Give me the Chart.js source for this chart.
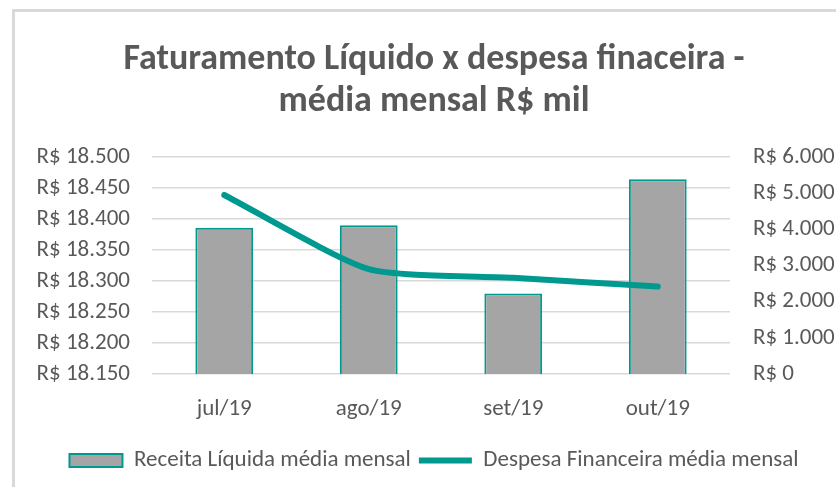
<!DOCTYPE html>
<html>
<head>
<meta charset="utf-8">
<script src="https://cdn.jsdelivr.net/npm/chart.js@4"></script>
<style>
  html, body { margin: 0; padding: 0; background: #fff; overflow: hidden; }
  #frame { position: absolute; left: 12px; top: 9px; width: 900px; height: 520px; border: 3px solid #d9d9d9; box-sizing: border-box; }
  #wrap { position: absolute; left: 13px; top: 0; width: 842px; height: 487px; }
</style>
</head>
<body>
<div id="frame"></div>
<div id="wrap"><canvas id="chart"></canvas></div>
<script>
// dados do gráfico
const meses = ["jul/19", "ago/19", "set/19", "out/19"];
const receitaLiquida = [18386, 18390, 18280, 18464];
const despesaFinanceira = [4950, 2900, 2660, 2420];

const cinza = "#595959";
const verde = "#00998F";
const fonte = "Carlito, Lato, sans-serif";

function formatReal(v) {
    return "R$ " + String(Math.round(v)).replace(/\B(?=(\d{3})+(?!\d))/g, ".");
}

Chart.defaults.font.family = fonte;
Chart.defaults.color = cinza;

const ctx = document.getElementById("chart").getContext("2d");
const chart = new Chart(ctx, {
    type: "bar",
    data: {
        labels: meses,
        datasets: [{
            label: "Receita Líquida média mensal",
            data: receitaLiquida,
            backgroundColor: "#A5A5A5",
            borderColor: verde,
            borderWidth: 2,
            borderSkipped: false,
            barPercentage: 0.4,
            categoryPercentage: 1,
            yAxisID: "y",
            order: 1
        }, {
            type: "line",
            label: "Despesa Financeira média mensal",
            data: despesaFinanceira,
            borderColor: verde,
            backgroundColor: verde,
            borderWidth: 6,
            borderCapStyle: "round",
            borderJoinStyle: "round",
            pointRadius: 0,
            tension: 0.2,
            yAxisID: "y1",
            order: 0
        }]
    },
    options: {
        responsive: true,
        maintainAspectRatio: false,
        animation: false,
        layout: { padding: { left: 0, right: 0, top: 0, bottom: 5 } },
        plugins: {
            title: {
                display: true,
                text: ["Faturamento Líquido x despesa finaceira -", "média mensal R$ mil"],
                font: { size: 36, weight: "bold", lineHeight: 1.167 },
                color: cinza,
                padding: { top: 39, bottom: 34 }
            },
            legend: {
                position: "bottom",
                labels: {
                    usePointStyle: true,
                    pointStyleWidth: 53,
                    boxHeight: 13,
                    font: { size: 23 },
                    color: cinza,
                    padding: 8,
                    sort: (a, b) => a.datasetIndex - b.datasetIndex,
                    generateLabels: function (c) {
                        const items = Chart.defaults.plugins.legend.labels.generateLabels(c);
                        items.forEach(it => {
                            if (it.datasetIndex === 0) {
                                it.pointStyle = "rect";
                                it.lineWidth = 2;
                            } else {
                                it.pointStyle = "line";
                                it.lineWidth = 6;
                            }
                        });
                        return items;
                    }
                }
            },
            tooltip: { enabled: false }
        },
        scales: {
            x: {
                grid: { display: false },
                border: { display: false },
                ticks: { font: { size: 23 }, color: cinza, padding: 13 },
                afterFit: s => { s.height = 67; }
            },
            y: {
                position: "left",
                min: 18150,
                max: 18500,
                grid: { color: "#D9D9D9", lineWidth: 1.5, drawTicks: false },
                border: { display: false },
                ticks: { stepSize: 50, font: { size: 23 }, color: cinza, padding: 22, callback: v => formatReal(v) },
                afterFit: s => { s.width = 139; }
            },
            y1: {
                position: "right",
                min: 0,
                max: 6000,
                grid: { display: false, drawTicks: false },
                border: { display: false },
                ticks: { stepSize: 1000, font: { size: 23 }, color: cinza, padding: 23, callback: v => formatReal(v) },
                afterFit: s => { s.width = 125; }
            }
        }
    }
});
</script>
</body>
</html>
